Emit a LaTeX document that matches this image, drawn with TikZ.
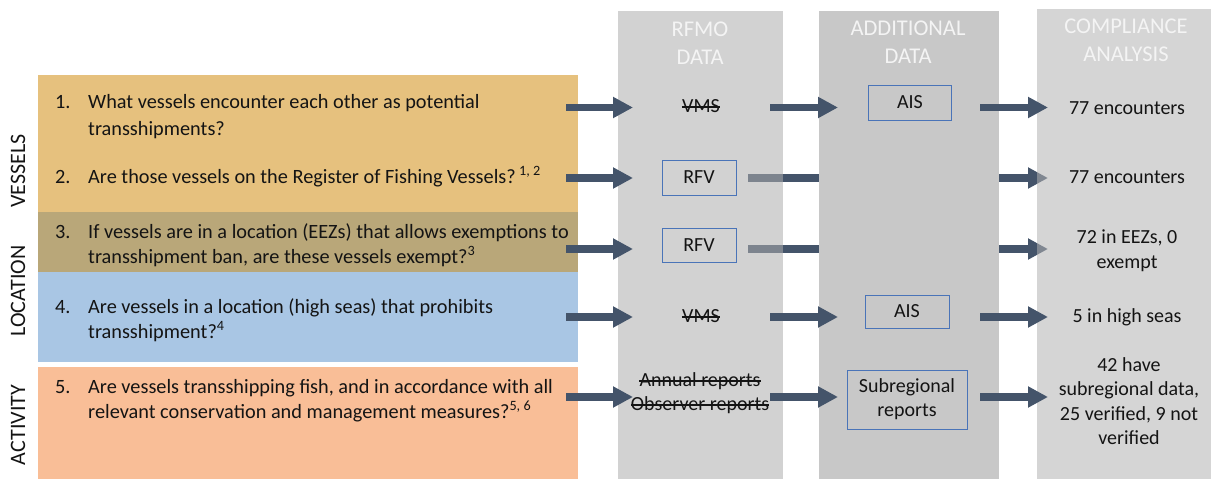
\documentclass[tikz,border=0pt]{standalone}
\usepackage{fontspec}
\setmainfont{Carlito}
\usetikzlibrary{arrows.meta}
\definecolor{navy}{HTML}{44546A}
\definecolor{boxblue}{HTML}{4A74B8}
\definecolor{bandY}{HTML}{E6C17E}
\definecolor{bandO}{HTML}{B9A779}
\definecolor{bandB}{HTML}{A9C6E4}
\definecolor{bandP}{HTML}{F9BE97}
\definecolor{colA}{gray}{0.68}
\definecolor{colB}{HTML}{C8C8C8}
\definecolor{colC}{gray}{0.70}
\definecolor{hdr}{HTML}{F4F4F4}
\definecolor{txt}{HTML}{141414}
\begin{document}
\begin{tikzpicture}[x=1pt,y=-1pt,
  arr/.style={draw=navy, line width=7.5pt, -{Triangle[length=20pt,width=20pt]}},
  qline/.style={anchor=west, inner sep=0pt, text height=14pt, text depth=4pt, text=txt, font=\fontsize{20.3}{26.5}\selectfont},
  qnum/.style={qline},
  side/.style={rotate=90, inner sep=0pt, text=txt, font=\fontsize{22}{26}\selectfont},
  header/.style={align=center, inner sep=0pt, text=hdr, font=\fontsize{22.5}{28}\selectfont},
  res/.style={align=center, inner sep=0pt, text=txt, font=\fontsize{20}{24.5}\selectfont},
  dat/.style={inner sep=0pt, text height=14pt, text depth=4pt, text=txt, font=\fontsize{20}{24}\selectfont},
  strike/.style={draw=txt, line width=1.1pt, yshift=-0.5pt},
  dbox/.style={draw=boxblue, line width=1pt, align=center, inner sep=0pt, text=txt, font=\fontsize{20}{24}\selectfont}
]
\useasboundingbox (0,0) rectangle (1211,479);

% left bands
\fill[bandY] (38,75) rectangle (578,212);
\fill[bandO] (38,212) rectangle (578,272);
\fill[bandB] (38,272) rectangle (578,362);
\fill[bandP] (38,367) rectangle (578,479);

% connector end coordinates
\foreach \r/\y in {1/107.5,2/178,3/249,4/317,5/397}{
  \coordinate (qa\r) at (566,\y);
  \coordinate (da\r) at (633,\y);
  \coordinate (db\r) at (770,\y);
  \coordinate (ab\r) at (838,\y);
  \coordinate (ac\r) at (980,\y);
  \coordinate (rc\r) at (1048,\y);
  \coordinate (fv\r) at (748,\y);
}

% long arrows that pass behind the columns
\draw[arr] (fv2) -- (rc2);
\draw[arr] (fv3) -- (rc3);

% columns
\fill[colA, fill opacity=0.55] (618,11) rectangle (783,479);
\fill[colB] (819,11) rectangle (999,479);
\fill[colC, fill opacity=0.55] (1037,9) rectangle (1211,479);

% headers
\node[header] (h1) at (700,43) {RFMO\\DATA};
\node[header] (h2) at (908,42) {ADDITIONAL\\DATA};
\node[header] (h3) at (1126,40) {COMPLIANCE\\ANALYSIS};

% side labels
\node[side] (lv) at (18,171) {VESSELS};
\node[side] (ll) at (18,291) {LOCATION};
\node[side] (la) at (18,425) {ACTIVITY};

% questions
\node[qnum] (n1) at (55,103) {1.};
\node[qline] (q1a) at (88,103) {What vessels encounter each other as potential};
\node[qline] (q1b) at (88,130) {transshipments?};
\node[qnum] (n2) at (55,178) {2.};
\node[qline] (q2a) at (88,178) {Are those vessels on the Register of Fishing Vessels?\,\textsuperscript{1, 2}};
\node[qnum] (n3) at (55,233) {3.};
\node[qline] (q3a) at (88,233) {If vessels are in a location (EEZs) that allows exemptions to};
\node[qline] (q3b) at (88,258) {transshipment ban, are these vessels exempt?\textsuperscript{3}};
\node[qnum] (n4) at (55,308) {4.};
\node[qline] (q4a) at (88,308) {Are vessels in a location (high seas) that prohibits};
\node[qline] (q4b) at (88,333) {transshipment?\textsuperscript{4}};
\node[qnum] (n5) at (55,388) {5.};
\node[qline] (q5a) at (88,388) {Are vessels transshipping fish, and in accordance with all};
\node[qline] (q5b) at (88,413) {relevant conservation and management measures?\textsuperscript{5, 6}};

% RFMO data
\node[dat] (vms1) at (701,107) {VMS};
\node[dbox, minimum width=74pt, minimum height=35pt] (rfv2) at (699,177.5) {RFV};
\node[dbox, minimum width=74pt, minimum height=34pt] (rfv3) at (699,245) {RFV};
\node[dat] (vms4) at (701,317) {VMS};
\node[dat] (ann5) at (700,381) {Annual reports};
\node[dat] (obs5) at (700,405) {Observer reports};
\foreach \n in {vms1,vms4,ann5,obs5}{ \draw[strike] (\n.west) -- (\n.east); }

% additional data
\node[dbox, minimum width=83pt, minimum height=35pt] (ais1) at (910,102.5) {AIS};
\node[dbox, minimum width=84pt, minimum height=33pt] (ais4) at (907,311.5) {AIS};
\node[dbox, minimum width=120pt, minimum height=59pt] (sub5) at (907,399.5) {Subregional\\reports};

% compliance analysis
\node[res] (r1) at (1127,108) {77 encounters};
\node[res] (r2) at (1127,177) {77 encounters};
\node[res] (r3) at (1127,250.5) {72 in EEZs, 0\\exempt};
\node[res] (r4) at (1127,317) {5 in high seas};
\node[res] (r5) at (1129,401) {42 have\\subregional data,\\25 verified, 9 not\\verified};

% arrows
\foreach \r in {1,2,3,4,5}{ \draw[arr] (qa\r) -- (da\r); }
\foreach \r in {1,4,5}{
  \draw[arr] (db\r) -- (ab\r);
  \draw[arr] (ac\r) -- (rc\r);
}
\end{tikzpicture}
\end{document}
